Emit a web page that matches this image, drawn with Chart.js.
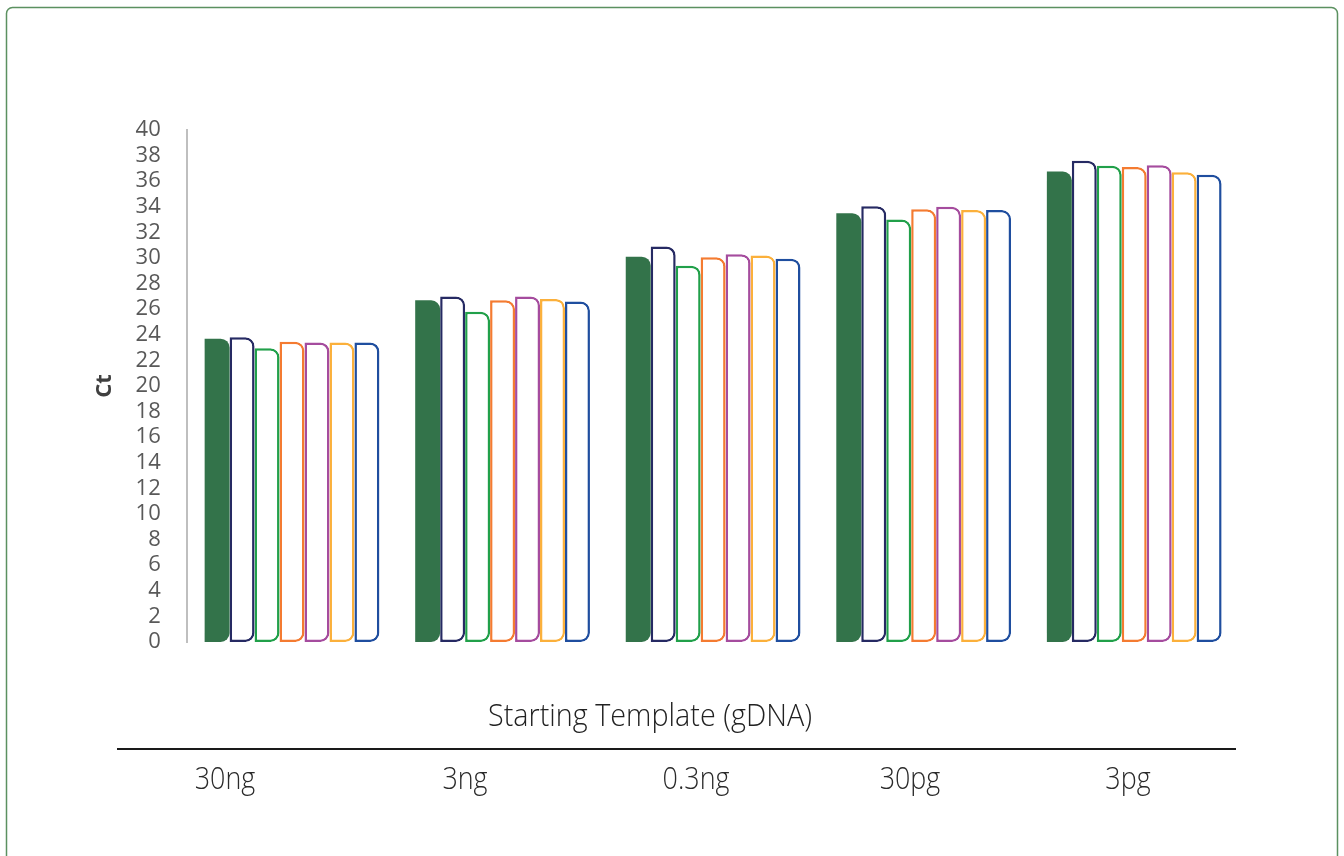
<!DOCTYPE html>
<html>
<head>
<meta charset="utf-8">
<script src="https://cdn.jsdelivr.net/npm/chart.js@4.4.1/dist/chart.umd.min.js"></script>
<style>
  html, body { margin: 0; padding: 0; background: #ffffff; }
  #wrap { width: 1344px; height: 856px; position: relative; }
</style>
</head>
<body>
<div id="wrap"><canvas id="c" width="1344" height="856"></canvas></div>
<script>
// Starting template amounts (gDNA)
const templates = ['30ng', '3ng', '0.3ng', '30pg', '3pg'];

// Ct values per assay
const ctFilled = [23.7, 26.7, 30.1, 33.5, 36.75];
const ctNavy   = [23.8, 27.0, 30.9, 34.05, 37.6];
const ctGreen  = [22.95, 25.8, 29.4, 33.0, 37.2];
const ctOrange = [23.45, 26.7, 30.05, 33.8, 37.1];
const ctPurple = [23.4, 27.0, 30.3, 34.0, 37.25];
const ctYellow = [23.4, 26.8, 30.2, 33.75, 36.7];
const ctBlue   = [23.4, 26.6, 29.95, 33.75, 36.5];

const yTitle = 'Ct';
const xTitle = 'Starting Template (gDNA)';

const radius = { topLeft: 0, bottomLeft: 0, topRight: 9, bottomRight: 9 };

function outlined(data, color) {
  return {
    data: data,
    backgroundColor: '#ffffff',
    borderColor: color,
    borderWidth: 2.5,
    borderSkipped: false,
    borderRadius: radius
  };
}

// Frame around the figure and the template table underneath the plot
const decorations = {
  id: 'decorations',
  beforeDraw(chart) {
    const ctx = chart.ctx;
    ctx.save();
    ctx.fillStyle = '#ffffff';
    ctx.fillRect(0, 0, chart.width, chart.height);
    ctx.strokeStyle = '#5b9160';
    ctx.lineWidth = 1.5;
    ctx.beginPath();
    ctx.roundRect(6.5, 7.5, 1331, 900, 6);
    ctx.stroke();
    ctx.restore();
  },
  afterDraw(chart) {
    const ctx = chart.ctx;
    ctx.save();
    ctx.textAlign = 'center';
    ctx.textBaseline = 'middle';

    // axis title, drawn narrow
    ctx.fillStyle = '#222222';
    ctx.font = '300 31px "Open Sans"';
    let w = ctx.measureText(xTitle).width;
    ctx.save();
    ctx.translate(650, 717);
    ctx.scale(324 / w, 1);
    ctx.fillText(xTitle, 0, 0);
    ctx.restore();

    // table rule
    ctx.strokeStyle = '#1a1a1a';
    ctx.lineWidth = 2;
    ctx.beginPath();
    ctx.moveTo(117, 749);
    ctx.lineTo(1236, 749);
    ctx.stroke();

    // table labels
    const labelX = [225, 465, 696, 910, 1128];
    ctx.fillStyle = '#2a2a2a';
    ctx.font = '300 32px "Open Sans"';
    templates.forEach((t, i) => {
      ctx.save();
      ctx.translate(labelX[i], 780);
      ctx.scale(0.84, 1);
      ctx.fillText(t, 0, 0);
      ctx.restore();
    });
    ctx.restore();
  }
};

new Chart(document.getElementById('c'), {
  type: 'bar',
  data: {
    labels: templates,
    datasets: [
      {
        data: ctFilled,
        backgroundColor: '#33734a',
        borderWidth: 0,
        borderSkipped: false,
        borderRadius: radius
      },
      outlined(ctNavy, '#262a63'),
      outlined(ctGreen, '#21a04a'),
      outlined(ctOrange, '#f47b31'),
      outlined(ctPurple, '#a54c9e'),
      outlined(ctYellow, '#fbb03b'),
      outlined(ctBlue, '#1f4e9f')
    ]
  },
  options: {
    responsive: false,
    animation: false,
    layout: { padding: { left: 80, top: 130, right: 104.5, bottom: 214 } },
    plugins: {
      legend: { display: false },
      tooltip: { enabled: false }
    },
    datasets: {
      bar: { categoryPercentage: 0.83, barPercentage: 1.0 }
    },
    scales: {
      x: {
        display: false,
        grid: { display: false }
      },
      y: {
        min: 0,
        max: 40,
        afterFit(scale) { scale.width = 106.75; },
        grid: { display: false, drawTicks: false },
        border: { display: true, color: '#bfbfbf', width: 2 },
        ticks: {
          stepSize: 2,
          autoSkip: false,
          padding: 26,
          color: '#595959',
          font: { family: '"Open Sans"', size: 22 }
        },
        title: {
          display: true,
          text: yTitle,
          color: '#404040',
          padding: { top: 12, bottom: 0 },
          font: { family: '"Open Sans"', size: 22, weight: 'bold' }
        }
      }
    }
  },
  plugins: [decorations]
});
</script>
</body>
</html>
